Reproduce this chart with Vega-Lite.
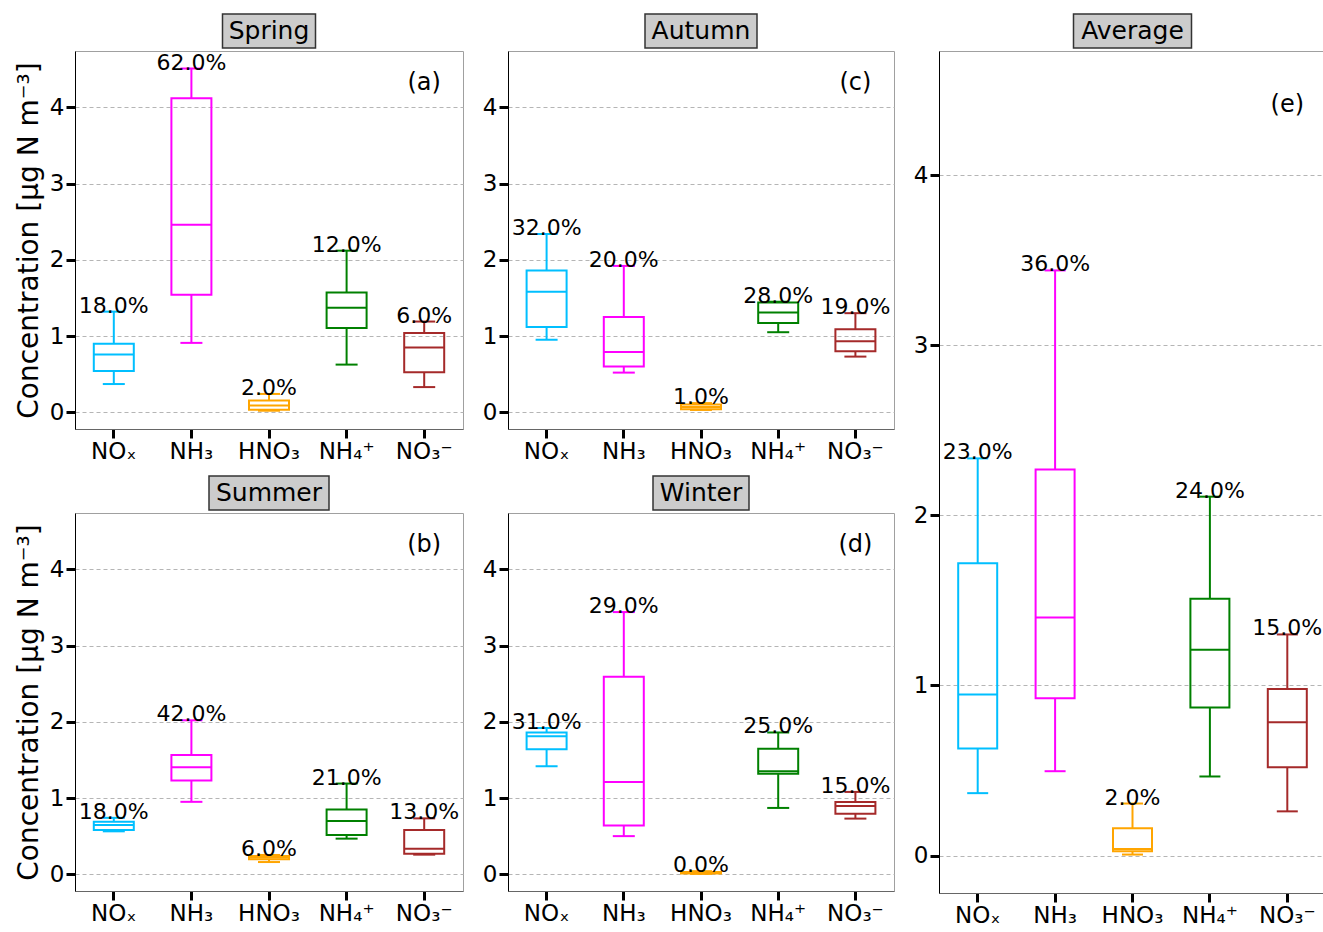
{
  "$schema": "https://vega.github.io/schema/vega-lite/v6.json",
  "autosize": {"type": "pad"},
  "padding": {"left": 14, "top": 13, "right": 0, "bottom": 0},
  "background": "white",
  "config": {
    "font": "DejaVu Sans",
    "view": {"stroke": null},
    "tick": {"opacity": 1},
    "axis": {"labelFont": "DejaVu Sans", "titleFont": "DejaVu Sans", "labelColor": "black", "titleColor": "black", "tickColor": "black", "tickWidth": 3, "tickSize": 9, "labelFontSize": 23, "titleFontWeight": "normal"},
    "axisY": {"grid": true, "gridColor": "#b5b5b5", "gridDash": [4, 3], "gridWidth": 1, "domainColor": "black", "domainWidth": 1, "tickCount": 5, "labelPadding": 2, "titleFontSize": 28, "titlePadding": 6},
    "axisX": {"grid": false, "domainColor": "#666666", "labelAngle": 0, "labelPadding": 2},
    "concat": {"spacing": 17}
  },
  "datasets": {
    "box": [
      {"panel": "Spring", "comp": "NOₓ", "lower": 0.37, "q1": 0.54, "median": 0.756, "q3": 0.90, "upper": 1.32, "pct": "18.0%"},
      {"panel": "Spring", "comp": "NH₃", "lower": 0.91, "q1": 1.54, "median": 2.46, "q3": 4.12, "upper": 4.51, "pct": "62.0%"},
      {"panel": "Spring", "comp": "HNO₃", "lower": 0.02, "q1": 0.031, "median": 0.088, "q3": 0.153, "upper": 0.24, "pct": "2.0%"},
      {"panel": "Spring", "comp": "NH₄⁺", "lower": 0.625, "q1": 1.106, "median": 1.37, "q3": 1.57, "upper": 2.12, "pct": "12.0%"},
      {"panel": "Spring", "comp": "NO₃⁻", "lower": 0.33, "q1": 0.524, "median": 0.85, "q3": 1.04, "upper": 1.19, "pct": "6.0%"},
      {"panel": "Autumn", "comp": "NOₓ", "lower": 0.95, "q1": 1.12, "median": 1.58, "q3": 1.86, "upper": 2.34, "pct": "32.0%"},
      {"panel": "Autumn", "comp": "NH₃", "lower": 0.52, "q1": 0.60, "median": 0.79, "q3": 1.25, "upper": 1.92, "pct": "20.0%"},
      {"panel": "Autumn", "comp": "HNO₃", "lower": 0.03, "q1": 0.04, "median": 0.07, "q3": 0.10, "upper": 0.12, "pct": "1.0%"},
      {"panel": "Autumn", "comp": "NH₄⁺", "lower": 1.05, "q1": 1.17, "median": 1.31, "q3": 1.44, "upper": 1.45, "pct": "28.0%"},
      {"panel": "Autumn", "comp": "NO₃⁻", "lower": 0.73, "q1": 0.80, "median": 0.93, "q3": 1.09, "upper": 1.30, "pct": "19.0%"},
      {"panel": "Summer", "comp": "NOₓ", "lower": 0.563, "q1": 0.58, "median": 0.646, "q3": 0.69, "upper": 0.74, "pct": "18.0%"},
      {"panel": "Summer", "comp": "NH₃", "lower": 0.95, "q1": 1.23, "median": 1.405, "q3": 1.566, "upper": 2.02, "pct": "42.0%"},
      {"panel": "Summer", "comp": "HNO₃", "lower": 0.16, "q1": 0.196, "median": 0.218, "q3": 0.24, "upper": 0.253, "pct": "6.0%"},
      {"panel": "Summer", "comp": "NH₄⁺", "lower": 0.467, "q1": 0.515, "median": 0.70, "q3": 0.85, "upper": 1.19, "pct": "21.0%"},
      {"panel": "Summer", "comp": "NO₃⁻", "lower": 0.257, "q1": 0.27, "median": 0.336, "q3": 0.58, "upper": 0.733, "pct": "13.0%"},
      {"panel": "Winter", "comp": "NOₓ", "lower": 1.418, "q1": 1.64, "median": 1.81, "q3": 1.86, "upper": 1.92, "pct": "31.0%"},
      {"panel": "Winter", "comp": "NH₃", "lower": 0.50, "q1": 0.64, "median": 1.21, "q3": 2.59, "upper": 3.44, "pct": "29.0%"},
      {"panel": "Winter", "comp": "HNO₃", "lower": 0.005, "q1": 0.01, "median": 0.02, "q3": 0.03, "upper": 0.04, "pct": "0.0%"},
      {"panel": "Winter", "comp": "NH₄⁺", "lower": 0.87, "q1": 1.32, "median": 1.35, "q3": 1.645, "upper": 1.86, "pct": "25.0%"},
      {"panel": "Winter", "comp": "NO₃⁻", "lower": 0.73, "q1": 0.794, "median": 0.894, "q3": 0.947, "upper": 1.08, "pct": "15.0%"},
      {"panel": "Average", "comp": "NOₓ", "lower": 0.367, "q1": 0.629, "median": 0.947, "q3": 1.718, "upper": 2.335, "pct": "23.0%"},
      {"panel": "Average", "comp": "NH₃", "lower": 0.496, "q1": 0.925, "median": 1.40, "q3": 2.27, "upper": 3.44, "pct": "36.0%"},
      {"panel": "Average", "comp": "HNO₃", "lower": 0.006, "q1": 0.025, "median": 0.039, "q3": 0.161, "upper": 0.306, "pct": "2.0%"},
      {"panel": "Average", "comp": "NH₄⁺", "lower": 0.465, "q1": 0.87, "median": 1.21, "q3": 1.51, "upper": 2.11, "pct": "24.0%"},
      {"panel": "Average", "comp": "NO₃⁻", "lower": 0.26, "q1": 0.52, "median": 0.784, "q3": 0.98, "upper": 1.30, "pct": "15.0%"}
    ]
  },
  "hconcat": [
    {
      "vconcat": [
        {
          "hconcat": [
            {
              "vconcat": [
                {"width": 93, "height": 34, "view": {"fill": "#cccccc", "stroke": "#333333", "strokeWidth": 1.5}, "data": {"values": [{"name": "Spring"}]}, "mark": {"type": "text", "fontSize": 25, "font": "DejaVu Sans", "baseline": "middle", "align": "center", "color": "black"}, "encoding": {"text": {"field": "name"}}},
                {
                  "width": 388, "height": 378,
                  "view": {"stroke": "#a0a0a0", "strokeWidth": 1},
                  "data": {"name": "box"},
                  "transform": [{"filter": "datum.panel === 'Spring'"}],
                  "encoding": {
                    "x": {"field": "comp", "type": "nominal", "sort": ["NOₓ", "NH₃", "HNO₃", "NH₄⁺", "NO₃⁻"], "title": null, "scale": {"paddingInner": 0, "paddingOuter": 0}},
                    "color": {"field": "comp", "type": "nominal", "scale": {"domain": ["NOₓ", "NH₃", "HNO₃", "NH₄⁺", "NO₃⁻"], "range": ["#00BFFF", "#FF00FF", "#FFA500", "#008000", "#A52A2A"]}, "legend": null}
                  },
                  "layer": [
                    {"mark": {"type": "rule", "strokeWidth": 2}, "encoding": {"y": {"field": "lower", "type": "quantitative", "scale": {"domain": [-0.22, 4.74], "nice": false, "zero": false}, "title": "Concentration [μg N m⁻³]"}, "y2": {"field": "q1"}}},
                    {"mark": {"type": "rule", "strokeWidth": 2}, "encoding": {"y": {"field": "q3", "type": "quantitative", "scale": {"domain": [-0.22, 4.74], "nice": false, "zero": false}, "title": "Concentration [μg N m⁻³]"}, "y2": {"field": "upper"}}},
                    {"mark": {"type": "bar", "filled": false, "width": 40, "strokeWidth": 2}, "encoding": {"y": {"field": "q1", "type": "quantitative", "scale": {"domain": [-0.22, 4.74], "nice": false, "zero": false}, "title": "Concentration [μg N m⁻³]"}, "y2": {"field": "q3"}}},
                    {"mark": {"type": "tick", "size": 40, "thickness": 2, "opacity": 1}, "encoding": {"y": {"field": "median", "type": "quantitative", "scale": {"domain": [-0.22, 4.74], "nice": false, "zero": false}, "title": "Concentration [μg N m⁻³]"}}},
                    {"mark": {"type": "tick", "size": 22, "thickness": 2, "opacity": 1}, "encoding": {"y": {"field": "lower", "type": "quantitative", "scale": {"domain": [-0.22, 4.74], "nice": false, "zero": false}, "title": "Concentration [μg N m⁻³]"}}},
                    {"mark": {"type": "tick", "size": 22, "thickness": 2, "opacity": 1}, "encoding": {"y": {"field": "upper", "type": "quantitative", "scale": {"domain": [-0.22, 4.74], "nice": false, "zero": false}, "title": "Concentration [μg N m⁻³]"}}},
                    {"mark": {"type": "text", "fontSize": 22, "baseline": "alphabetic", "dy": 1}, "encoding": {"y": {"field": "upper", "type": "quantitative", "scale": {"domain": [-0.22, 4.74], "nice": false, "zero": false}, "title": "Concentration [μg N m⁻³]"}, "text": {"field": "pct"}, "color": {"value": "black"}}},
                    {"data": {"values": [{"lab": "(a)"}]}, "mark": {"type": "text", "fontSize": 24, "baseline": "middle"}, "encoding": {"x": {"datum": "NO₃⁻", "type": "nominal"}, "y": {"datum": 4.32, "type": "quantitative", "title": "Concentration [μg N m⁻³]"}, "text": {"field": "lab"}, "color": {"value": "black"}}}
                  ]
                }
              ],
              "spacing": 3, "bounds": "flush", "center": true
            },
            {
              "vconcat": [
                {"width": 112, "height": 34, "view": {"fill": "#cccccc", "stroke": "#333333", "strokeWidth": 1.5}, "data": {"values": [{"name": "Autumn"}]}, "mark": {"type": "text", "fontSize": 25, "font": "DejaVu Sans", "baseline": "middle", "align": "center", "color": "black"}, "encoding": {"text": {"field": "name"}}},
                {
                  "width": 386, "height": 378,
                  "view": {"stroke": "#a0a0a0", "strokeWidth": 1},
                  "data": {"name": "box"},
                  "transform": [{"filter": "datum.panel === 'Autumn'"}],
                  "encoding": {
                    "x": {"field": "comp", "type": "nominal", "sort": ["NOₓ", "NH₃", "HNO₃", "NH₄⁺", "NO₃⁻"], "title": null, "scale": {"paddingInner": 0, "paddingOuter": 0}},
                    "color": {"field": "comp", "type": "nominal", "scale": {"domain": ["NOₓ", "NH₃", "HNO₃", "NH₄⁺", "NO₃⁻"], "range": ["#00BFFF", "#FF00FF", "#FFA500", "#008000", "#A52A2A"]}, "legend": null}
                  },
                  "layer": [
                    {"mark": {"type": "rule", "strokeWidth": 2}, "encoding": {"y": {"field": "lower", "type": "quantitative", "scale": {"domain": [-0.22, 4.74], "nice": false, "zero": false}, "title": null}, "y2": {"field": "q1"}}},
                    {"mark": {"type": "rule", "strokeWidth": 2}, "encoding": {"y": {"field": "q3", "type": "quantitative", "scale": {"domain": [-0.22, 4.74], "nice": false, "zero": false}, "title": null}, "y2": {"field": "upper"}}},
                    {"mark": {"type": "bar", "filled": false, "width": 40, "strokeWidth": 2}, "encoding": {"y": {"field": "q1", "type": "quantitative", "scale": {"domain": [-0.22, 4.74], "nice": false, "zero": false}, "title": null}, "y2": {"field": "q3"}}},
                    {"mark": {"type": "tick", "size": 40, "thickness": 2, "opacity": 1}, "encoding": {"y": {"field": "median", "type": "quantitative", "scale": {"domain": [-0.22, 4.74], "nice": false, "zero": false}, "title": null}}},
                    {"mark": {"type": "tick", "size": 22, "thickness": 2, "opacity": 1}, "encoding": {"y": {"field": "lower", "type": "quantitative", "scale": {"domain": [-0.22, 4.74], "nice": false, "zero": false}, "title": null}}},
                    {"mark": {"type": "tick", "size": 22, "thickness": 2, "opacity": 1}, "encoding": {"y": {"field": "upper", "type": "quantitative", "scale": {"domain": [-0.22, 4.74], "nice": false, "zero": false}, "title": null}}},
                    {"mark": {"type": "text", "fontSize": 22, "baseline": "alphabetic", "dy": 1}, "encoding": {"y": {"field": "upper", "type": "quantitative", "scale": {"domain": [-0.22, 4.74], "nice": false, "zero": false}, "title": null}, "text": {"field": "pct"}, "color": {"value": "black"}}},
                    {"data": {"values": [{"lab": "(c)"}]}, "mark": {"type": "text", "fontSize": 24, "baseline": "middle"}, "encoding": {"x": {"datum": "NO₃⁻", "type": "nominal"}, "y": {"datum": 4.32, "type": "quantitative", "title": null}, "text": {"field": "lab"}, "color": {"value": "black"}}}
                  ]
                }
              ],
              "spacing": 3, "bounds": "flush", "center": true
            }
          ]
        },
        {
          "hconcat": [
            {
              "vconcat": [
                {"width": 120, "height": 34, "view": {"fill": "#cccccc", "stroke": "#333333", "strokeWidth": 1.5}, "data": {"values": [{"name": "Summer"}]}, "mark": {"type": "text", "fontSize": 25, "font": "DejaVu Sans", "baseline": "middle", "align": "center", "color": "black"}, "encoding": {"text": {"field": "name"}}},
                {
                  "width": 388, "height": 378,
                  "view": {"stroke": "#a0a0a0", "strokeWidth": 1},
                  "data": {"name": "box"},
                  "transform": [{"filter": "datum.panel === 'Summer'"}],
                  "encoding": {
                    "x": {"field": "comp", "type": "nominal", "sort": ["NOₓ", "NH₃", "HNO₃", "NH₄⁺", "NO₃⁻"], "title": null, "scale": {"paddingInner": 0, "paddingOuter": 0}},
                    "color": {"field": "comp", "type": "nominal", "scale": {"domain": ["NOₓ", "NH₃", "HNO₃", "NH₄⁺", "NO₃⁻"], "range": ["#00BFFF", "#FF00FF", "#FFA500", "#008000", "#A52A2A"]}, "legend": null}
                  },
                  "layer": [
                    {"mark": {"type": "rule", "strokeWidth": 2}, "encoding": {"y": {"field": "lower", "type": "quantitative", "scale": {"domain": [-0.22, 4.74], "nice": false, "zero": false}, "title": "Concentration [μg N m⁻³]"}, "y2": {"field": "q1"}}},
                    {"mark": {"type": "rule", "strokeWidth": 2}, "encoding": {"y": {"field": "q3", "type": "quantitative", "scale": {"domain": [-0.22, 4.74], "nice": false, "zero": false}, "title": "Concentration [μg N m⁻³]"}, "y2": {"field": "upper"}}},
                    {"mark": {"type": "bar", "filled": false, "width": 40, "strokeWidth": 2}, "encoding": {"y": {"field": "q1", "type": "quantitative", "scale": {"domain": [-0.22, 4.74], "nice": false, "zero": false}, "title": "Concentration [μg N m⁻³]"}, "y2": {"field": "q3"}}},
                    {"mark": {"type": "tick", "size": 40, "thickness": 2, "opacity": 1}, "encoding": {"y": {"field": "median", "type": "quantitative", "scale": {"domain": [-0.22, 4.74], "nice": false, "zero": false}, "title": "Concentration [μg N m⁻³]"}}},
                    {"mark": {"type": "tick", "size": 22, "thickness": 2, "opacity": 1}, "encoding": {"y": {"field": "lower", "type": "quantitative", "scale": {"domain": [-0.22, 4.74], "nice": false, "zero": false}, "title": "Concentration [μg N m⁻³]"}}},
                    {"mark": {"type": "tick", "size": 22, "thickness": 2, "opacity": 1}, "encoding": {"y": {"field": "upper", "type": "quantitative", "scale": {"domain": [-0.22, 4.74], "nice": false, "zero": false}, "title": "Concentration [μg N m⁻³]"}}},
                    {"mark": {"type": "text", "fontSize": 22, "baseline": "alphabetic", "dy": 1}, "encoding": {"y": {"field": "upper", "type": "quantitative", "scale": {"domain": [-0.22, 4.74], "nice": false, "zero": false}, "title": "Concentration [μg N m⁻³]"}, "text": {"field": "pct"}, "color": {"value": "black"}}},
                    {"data": {"values": [{"lab": "(b)"}]}, "mark": {"type": "text", "fontSize": 24, "baseline": "middle"}, "encoding": {"x": {"datum": "NO₃⁻", "type": "nominal"}, "y": {"datum": 4.32, "type": "quantitative", "title": "Concentration [μg N m⁻³]"}, "text": {"field": "lab"}, "color": {"value": "black"}}}
                  ]
                }
              ],
              "spacing": 3, "bounds": "flush", "center": true
            },
            {
              "vconcat": [
                {"width": 96, "height": 34, "view": {"fill": "#cccccc", "stroke": "#333333", "strokeWidth": 1.5}, "data": {"values": [{"name": "Winter"}]}, "mark": {"type": "text", "fontSize": 25, "font": "DejaVu Sans", "baseline": "middle", "align": "center", "color": "black"}, "encoding": {"text": {"field": "name"}}},
                {
                  "width": 386, "height": 378,
                  "view": {"stroke": "#a0a0a0", "strokeWidth": 1},
                  "data": {"name": "box"},
                  "transform": [{"filter": "datum.panel === 'Winter'"}],
                  "encoding": {
                    "x": {"field": "comp", "type": "nominal", "sort": ["NOₓ", "NH₃", "HNO₃", "NH₄⁺", "NO₃⁻"], "title": null, "scale": {"paddingInner": 0, "paddingOuter": 0}},
                    "color": {"field": "comp", "type": "nominal", "scale": {"domain": ["NOₓ", "NH₃", "HNO₃", "NH₄⁺", "NO₃⁻"], "range": ["#00BFFF", "#FF00FF", "#FFA500", "#008000", "#A52A2A"]}, "legend": null}
                  },
                  "layer": [
                    {"mark": {"type": "rule", "strokeWidth": 2}, "encoding": {"y": {"field": "lower", "type": "quantitative", "scale": {"domain": [-0.22, 4.74], "nice": false, "zero": false}, "title": null}, "y2": {"field": "q1"}}},
                    {"mark": {"type": "rule", "strokeWidth": 2}, "encoding": {"y": {"field": "q3", "type": "quantitative", "scale": {"domain": [-0.22, 4.74], "nice": false, "zero": false}, "title": null}, "y2": {"field": "upper"}}},
                    {"mark": {"type": "bar", "filled": false, "width": 40, "strokeWidth": 2}, "encoding": {"y": {"field": "q1", "type": "quantitative", "scale": {"domain": [-0.22, 4.74], "nice": false, "zero": false}, "title": null}, "y2": {"field": "q3"}}},
                    {"mark": {"type": "tick", "size": 40, "thickness": 2, "opacity": 1}, "encoding": {"y": {"field": "median", "type": "quantitative", "scale": {"domain": [-0.22, 4.74], "nice": false, "zero": false}, "title": null}}},
                    {"mark": {"type": "tick", "size": 22, "thickness": 2, "opacity": 1}, "encoding": {"y": {"field": "lower", "type": "quantitative", "scale": {"domain": [-0.22, 4.74], "nice": false, "zero": false}, "title": null}}},
                    {"mark": {"type": "tick", "size": 22, "thickness": 2, "opacity": 1}, "encoding": {"y": {"field": "upper", "type": "quantitative", "scale": {"domain": [-0.22, 4.74], "nice": false, "zero": false}, "title": null}}},
                    {"mark": {"type": "text", "fontSize": 22, "baseline": "alphabetic", "dy": 1}, "encoding": {"y": {"field": "upper", "type": "quantitative", "scale": {"domain": [-0.22, 4.74], "nice": false, "zero": false}, "title": null}, "text": {"field": "pct"}, "color": {"value": "black"}}},
                    {"data": {"values": [{"lab": "(d)"}]}, "mark": {"type": "text", "fontSize": 24, "baseline": "middle"}, "encoding": {"x": {"datum": "NO₃⁻", "type": "nominal"}, "y": {"datum": 4.32, "type": "quantitative", "title": null}, "text": {"field": "lab"}, "color": {"value": "black"}}}
                  ]
                }
              ],
              "spacing": 3, "bounds": "flush", "center": true
            }
          ]
        }
      ],
      "spacing": 11
    },
    {
      "vconcat": [
        {"width": 118, "height": 34, "view": {"fill": "#cccccc", "stroke": "#333333", "strokeWidth": 1.5}, "data": {"values": [{"name": "Average"}]}, "mark": {"type": "text", "fontSize": 25, "font": "DejaVu Sans", "baseline": "middle", "align": "center", "color": "black"}, "encoding": {"text": {"field": "name"}}},
        {
          "width": 387, "height": 842,
          "view": {"stroke": "#a0a0a0", "strokeWidth": 1},
          "data": {"name": "box"},
          "transform": [{"filter": "datum.panel === 'Average'"}],
          "encoding": {
            "x": {"field": "comp", "type": "nominal", "sort": ["NOₓ", "NH₃", "HNO₃", "NH₄⁺", "NO₃⁻"], "title": null, "scale": {"paddingInner": 0, "paddingOuter": 0}},
            "color": {"field": "comp", "type": "nominal", "scale": {"domain": ["NOₓ", "NH₃", "HNO₃", "NH₄⁺", "NO₃⁻"], "range": ["#00BFFF", "#FF00FF", "#FFA500", "#008000", "#A52A2A"]}, "legend": null}
          },
          "layer": [
            {"mark": {"type": "rule", "strokeWidth": 2}, "encoding": {"y": {"field": "lower", "type": "quantitative", "scale": {"domain": [-0.22, 4.73], "nice": false, "zero": false}, "title": null}, "y2": {"field": "q1"}}},
            {"mark": {"type": "rule", "strokeWidth": 2}, "encoding": {"y": {"field": "q3", "type": "quantitative", "scale": {"domain": [-0.22, 4.73], "nice": false, "zero": false}, "title": null}, "y2": {"field": "upper"}}},
            {"mark": {"type": "bar", "filled": false, "width": 39, "strokeWidth": 2}, "encoding": {"y": {"field": "q1", "type": "quantitative", "scale": {"domain": [-0.22, 4.73], "nice": false, "zero": false}, "title": null}, "y2": {"field": "q3"}}},
            {"mark": {"type": "tick", "size": 39, "thickness": 2, "opacity": 1}, "encoding": {"y": {"field": "median", "type": "quantitative", "scale": {"domain": [-0.22, 4.73], "nice": false, "zero": false}, "title": null}}},
            {"mark": {"type": "tick", "size": 21, "thickness": 2, "opacity": 1}, "encoding": {"y": {"field": "lower", "type": "quantitative", "scale": {"domain": [-0.22, 4.73], "nice": false, "zero": false}, "title": null}}},
            {"mark": {"type": "tick", "size": 21, "thickness": 2, "opacity": 1}, "encoding": {"y": {"field": "upper", "type": "quantitative", "scale": {"domain": [-0.22, 4.73], "nice": false, "zero": false}, "title": null}}},
            {"mark": {"type": "text", "fontSize": 22, "baseline": "alphabetic", "dy": 1}, "encoding": {"y": {"field": "upper", "type": "quantitative", "scale": {"domain": [-0.22, 4.73], "nice": false, "zero": false}, "title": null}, "text": {"field": "pct"}, "color": {"value": "black"}}},
            {"data": {"values": [{"lab": "(e)"}]}, "mark": {"type": "text", "fontSize": 24, "baseline": "middle"}, "encoding": {"x": {"datum": "NO₃⁻", "type": "nominal"}, "y": {"datum": 4.41, "type": "quantitative", "title": null}, "text": {"field": "lab"}, "color": {"value": "black"}}}
          ]
        }
      ],
      "spacing": 3, "bounds": "flush", "center": true
    }
  ]
}
